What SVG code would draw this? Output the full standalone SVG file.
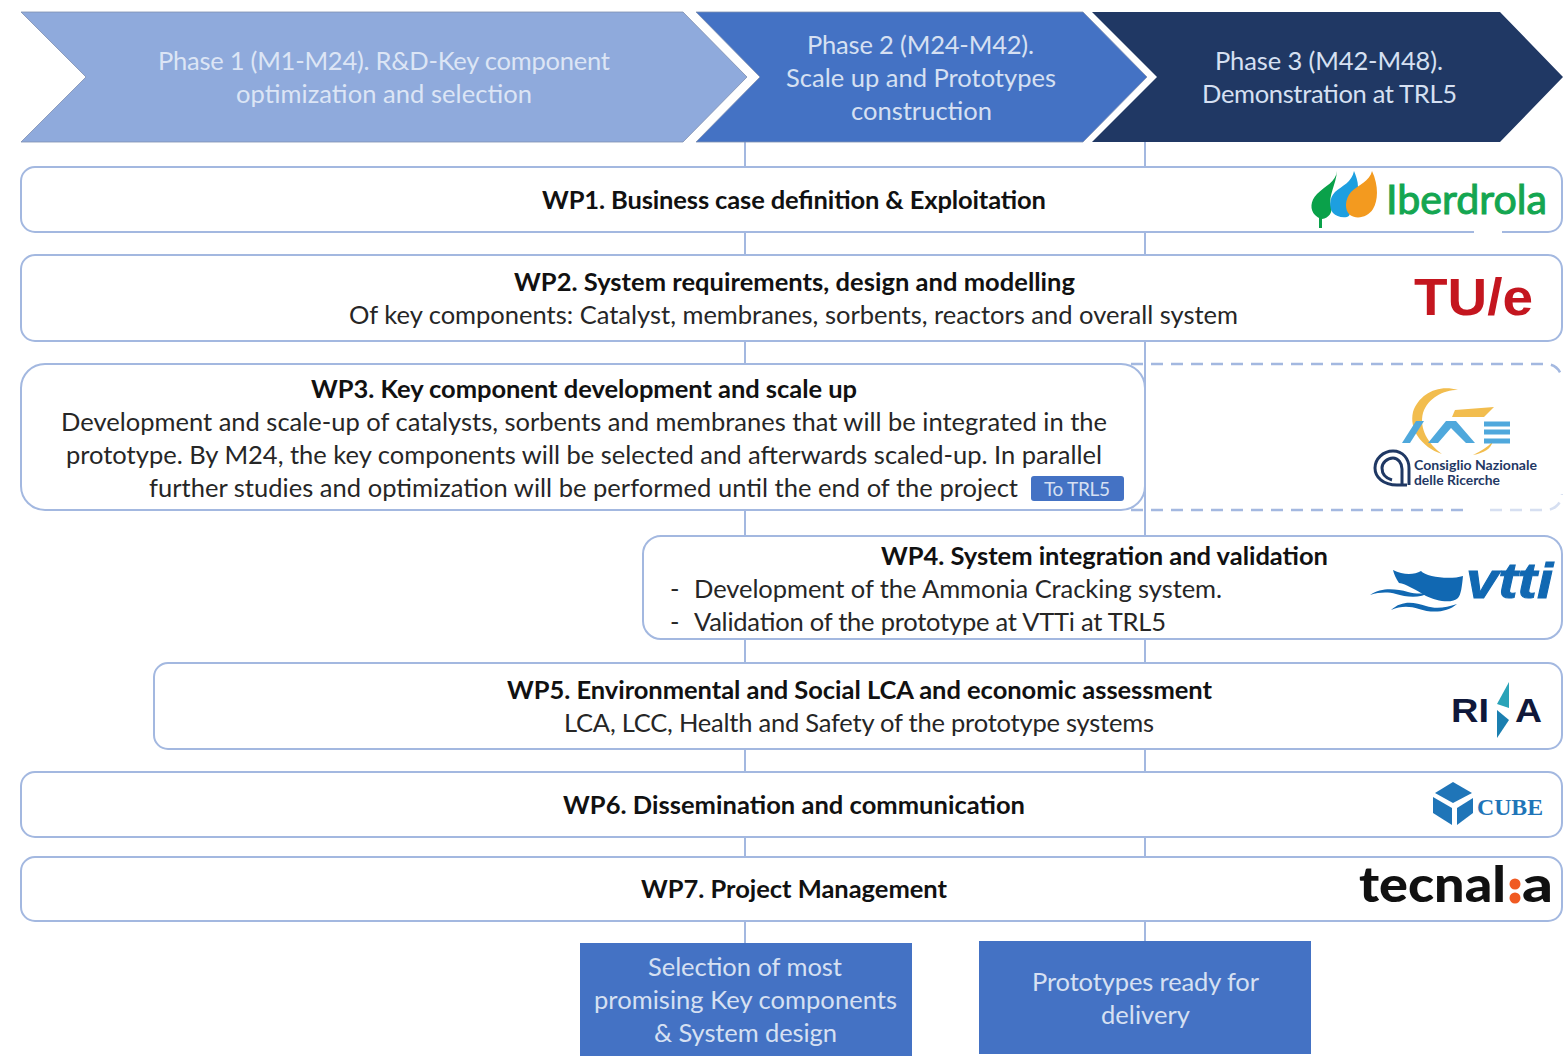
<svg xmlns="http://www.w3.org/2000/svg" width="1563" height="1059" viewBox="0 0 1563 1059">
<style>
text{font-family:"Lato","Open Sans","Liberation Sans",sans-serif;font-size:25.5px;text-anchor:start;fill:#262626}
.b{font-weight:700;fill:#111}
.lt{fill:#d6e0f2}
.lt1{fill:#dce5f5}
.wp{fill:#fff;stroke:#a3b8e0;stroke-width:2}
.conn{stroke:#a3b8e0;stroke-width:2;fill:none}
.box{fill:#4472c4}
.chev{stroke:#7f8fb0;stroke-width:.8}
.dash{fill:none;stroke:#a3b8e0;stroke-width:2.5;stroke-dasharray:12 8}
.sans{font-family:"Liberation Sans",sans-serif;font-weight:700}
</style>
<rect width="1563" height="1059" fill="#fff"/>
<g id="connectors">
<path class="conn" d="M745 142V943M1145 142V941"/>
</g>
<g id="phase1">
<polygon class="chev" points="21,12 683,12 747,77 683,142 21,142 86,77" fill="#8faadc"/>
<text class="lt1" x="158" y="70" textLength="452">Phase 1 (M1-M24). R&amp;D-Key component</text>
<text class="lt1" x="236" y="103" textLength="296">optimization and selection</text>
</g>
<g id="phase2">
<polygon class="chev" points="696,12 1083,12 1147,77 1083,142 696,142 760,77" fill="#4472c4"/>
<text class="lt" x="807" y="54" textLength="227">Phase 2 (M24-M42).</text>
<text class="lt" x="786" y="87" textLength="270">Scale up and Prototypes</text>
<text class="lt" x="851" y="120" textLength="141">construction</text>
</g>
<g id="phase3">
<polygon points="1092,12 1500,12 1563,77 1500,142 1092,142 1157,77" fill="#203864"/>
<text class="lt" x="1215" y="70" textLength="228">Phase 3 (M42-M48).</text>
<text class="lt" x="1202" y="103" textLength="255">Demonstration at TRL5</text>
</g>
<g id="wp1">
<rect class="wp" x="21" y="167" width="1541" height="65" rx="14"/>
<rect x="1474" y="229" width="28" height="6" fill="#fff"/>
<text class="b" x="542" y="209" textLength="504">WP1. Business case definition &amp; Exploitation</text>
<g id="logo-iberdrola">
<path d="M1337 171C1336 182 1325 186 1317 194C1310 201 1310 210 1315 215C1317 217 1319 218 1319 218L1319 228L1322 228L1322 219C1329 218 1333 212 1331 206C1328 196 1336 185 1337 171Z" fill="#0aa14a"/>
<path d="M1354 171C1352 182 1342 186 1335 192C1329 198 1329 208 1333 213C1336 216 1341 218 1347 217C1352 215 1349 212 1348 206C1347 198 1352 192 1358 187C1358 181 1356 176 1354 171Z" fill="#1d9fe0"/>
<path d="M1372 171C1370 181 1358 185 1351 192C1345 199 1344 210 1350 215C1357 220 1368 217 1373 209C1378 201 1379 186 1372 171Z" fill="#f39a1f"/>
<text x="1386" y="214" textLength="161" lengthAdjust="spacingAndGlyphs" stroke="#14a651" stroke-width="1" style="font-size:40px;fill:#14a651">Iberdrola</text>
</g>
</g>
<g id="wp2">
<rect class="wp" x="21" y="255" width="1541" height="86" rx="14"/>
<text class="b" x="514" y="291" textLength="561">WP2. System requirements, design and modelling</text>
<text x="349" y="324" textLength="889">Of key components: Catalyst, membranes, sorbents, reactors and overall system</text>
<text class="sans" x="1414" y="315" textLength="119" lengthAdjust="spacingAndGlyphs" style="font-size:52px;fill:#c4161f">TU/e</text>
</g>
<g id="wp3">
<rect class="wp" x="21" y="364" width="1124" height="146" rx="24"/>
<text class="b" x="311" y="398" textLength="546">WP3. Key component development and scale up</text>
<text x="61" y="431" textLength="1046">Development and scale-up of catalysts, sorbents and membranes that will be integrated in the</text>
<text x="66" y="464" textLength="1036">prototype. By M24, the key components will be selected and afterwards scaled-up. In parallel</text>
<text x="149" y="497" textLength="869">further studies and optimization will be performed until the end of the project</text>
<rect class="box" x="1031" y="476" width="93" height="25" rx="3"/>
<text class="lt" x="1044" y="496" textLength="66" style="font-size:19px">To TRL5</text>
</g>
<g id="wp3-extension">
<path class="dash" d="M1131 364H1546A16 16 0 0 1 1562 380"/>
<path class="dash" d="M1131 510H1464"/>
<path class="dash" opacity=".45" d="M1490 510H1546A16 16 0 0 0 1562 494"/>
<g id="logo-cnr">
<path d="M1458 390C1438 384 1419 394 1413 412C1409 429 1421 447 1442 454C1428 444 1419 428 1423 413C1428 398 1443 390 1458 390Z" fill="#f2bd4e"/>
<path d="M1473 455C1484 453 1491 449 1493 441C1488 447 1481 451 1473 455Z" fill="#f2bd4e"/>
<polygon points="1455,410 1494,407 1484,417 1452,417" fill="#f2bd4e"/>
<polygon points="1402,443 1410,443 1424,421 1416,421" fill="#4fa8dc"/>
<polygon points="1446,421 1456,421 1475,443 1466,443 1451,428 1438,443 1428,443" fill="#4fa8dc"/>
<path d="M1484 424H1510M1484 432H1510M1484 441H1510" stroke="#4fa8dc" stroke-width="5"/>
<path d="M1407 485H1397C1383 485 1375 477 1375 468C1375 459 1383 451 1393 451C1403 451 1409 459 1409 468V485M1402 485V469C1402 463 1398 458 1393 458C1387 458 1382 463 1382 468C1382 473 1385 478 1392 480" fill="none" stroke="#1f3864" stroke-width="3"/>
<text x="1414" y="470" textLength="123" lengthAdjust="spacingAndGlyphs" style="font-size:12.5px;font-weight:700;fill:#1f3864">Consiglio Nazionale</text>
<text x="1414" y="485" textLength="86" lengthAdjust="spacingAndGlyphs" style="font-size:12.5px;font-weight:700;fill:#1f3864">delle Ricerche</text>
</g>
</g>
<g id="wp4">
<rect class="wp" x="643" y="536" width="919" height="103" rx="18"/>
<text class="b" x="881" y="565" textLength="447">WP4. System integration and validation</text>
<text x="670" y="598">-</text>
<text x="694" y="598" textLength="528">Development of the Ammonia Cracking system.</text>
<text x="670" y="631">-</text>
<text x="694" y="631" textLength="472">Validation of the prototype at VTTi at TRL5</text>
<g id="logo-vtti" fill="#1168b2">
<path d="M1393 570C1403 575 1414 575 1421 571C1426 577 1450 580 1463 576C1462 586 1461 595 1458 598C1452 604 1436 601 1426 596C1416 590 1406 584 1399 583C1396 579 1394 574 1393 570Z"/>
<path d="M1370 595C1382 587 1396 589 1408 592C1416 594 1424 594 1430 592C1420 599 1406 597 1396 594C1388 592 1380 592 1370 595Z"/>
<path d="M1391 610C1402 600 1414 602 1426 606C1435 609 1446 608 1457 604C1447 613 1431 613 1419 609C1409 606 1401 606 1391 610Z"/>
<text class="sans" x="1466" y="598" textLength="87" lengthAdjust="spacingAndGlyphs" stroke="#1168b2" stroke-width="1" style="font-style:italic;font-size:50px;fill:#1168b2">vtti</text>
</g>
</g>
<g id="wp5">
<rect class="wp" x="154" y="663" width="1408" height="86" rx="14"/>
<text class="b" x="507" y="699" textLength="705">WP5. Environmental and Social LCA and economic assessment</text>
<text x="564" y="732" textLength="590">LCA, LCC, Health and Safety of the prototype systems</text>
<g id="logo-rina">
<text class="sans" x="1451" y="722" textLength="38" lengthAdjust="spacingAndGlyphs" style="font-size:34px;fill:#10183a">RI</text>
<polygon points="1509,682 1497,704 1509,708" fill="#2aa3b8"/>
<polygon points="1497,710 1509,720 1497,738" fill="#1b7fb0"/>
<text class="sans" x="1515" y="722" textLength="27" lengthAdjust="spacingAndGlyphs" style="font-size:34px;fill:#10183a">A</text>
</g>
</g>
<g id="wp6">
<rect class="wp" x="21" y="772" width="1541" height="65" rx="14"/>
<text class="b" x="563" y="814" textLength="462">WP6. Dissemination and communication</text>
<g id="logo-cube" fill="#1f75b8">
<polygon points="1453,782 1472,793 1453,803 1435,793"/>
<polygon points="1433,797 1452,808 1452,825 1433,813"/>
<polygon points="1457,808 1473,798 1473,813 1457,825"/>
<text x="1477" y="815" textLength="66" lengthAdjust="spacingAndGlyphs" style="font-family:'Liberation Serif',serif;font-weight:700;font-size:23px;fill:#1f75b8">CUBE</text>
</g>
</g>
<g id="wp7">
<rect class="wp" x="21" y="857" width="1541" height="64" rx="14"/>
<text class="b" x="641" y="898" textLength="306">WP7. Project Management</text>
<g id="logo-tecnalia">
<text x="1359" y="902" textLength="147" lengthAdjust="spacingAndGlyphs" style="font-weight:900;font-size:50px;fill:#111">tecnal</text>
<circle cx="1515" cy="884" r="5.5" fill="#f05a22"/>
<circle cx="1515" cy="898" r="5.5" fill="#f05a22"/>
<text x="1522" y="902" textLength="31" lengthAdjust="spacingAndGlyphs" style="font-weight:900;font-size:50px;fill:#111">a</text>
</g>
</g>
<g id="milestone1">
<rect class="box" x="580" y="943" width="332" height="113"/>
<text class="lt" x="648" y="976" textLength="194">Selection of most</text>
<text class="lt" x="594" y="1009" textLength="303">promising Key components</text>
<text class="lt" x="654" y="1042" textLength="183">&amp; System design</text>
</g>
<g id="milestone2">
<rect class="box" x="979" y="941" width="332" height="113"/>
<text class="lt" x="1032" y="991" textLength="227">Prototypes ready for</text>
<text class="lt" x="1101" y="1024" textLength="89">delivery</text>
</g>
</svg>
